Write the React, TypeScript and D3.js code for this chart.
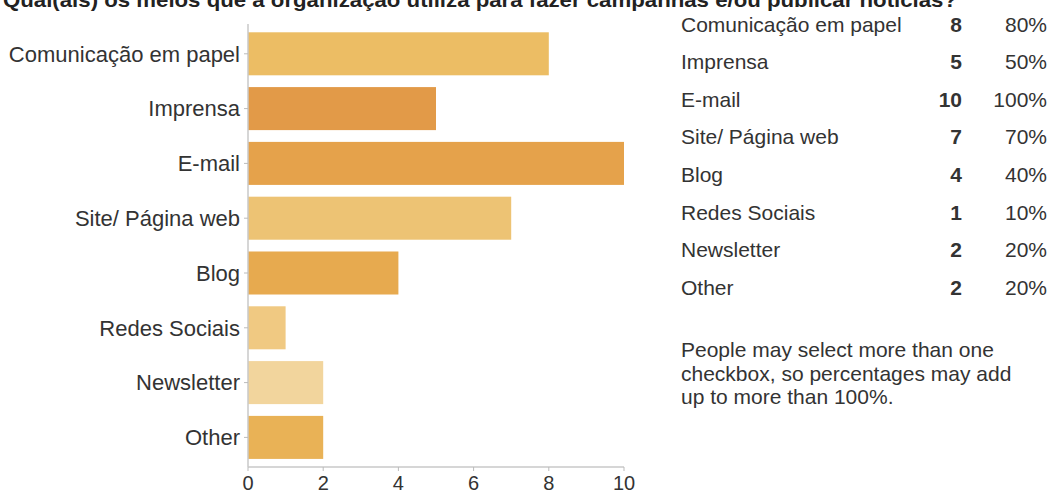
import React from "react";
import * as d3 from "d3";

const title = "Qual(ais) os meios que a organização utiliza para fazer campanhas e/ou publicar notícias?";
const categories = [
  "Comunicação em papel",
  "Imprensa",
  "E-mail",
  "Site/ Página web",
  "Blog",
  "Redes Sociais",
  "Newsletter",
  "Other",
];
const counts = [8, 5, 10, 7, 4, 1, 2, 2];
const percents = ["80%", "50%", "100%", "70%", "40%", "10%", "20%", "20%"];
const barColors = ["#ecbd64", "#e29a48", "#e5a24b", "#edc374", "#e7aa4f", "#f0c982", "#f2d59d", "#e9b256"];
const xTicks = [0, 2, 4, 6, 8, 10];
const noteLines = [
  "People may select more than one",
  "checkbox, so percentages may add",
  "up to more than 100%.",
];

const W = 1052;
const H = 495;
const FONT = "'Liberation Sans', Arial, Helvetica, sans-serif";
const TEXT = "#333";

export default function App() {
  const x = d3.scaleLinear().domain([0, 10]).range([248, 624]);
  const y = d3
    .scaleBand<string>()
    .domain(categories)
    .range([26.4, 464.8])
    .paddingInner(0.215)
    .paddingOuter(0.1075);
  const axisY = 467;

  const rowY = d3.scaleLinear().domain([0, 1]).range([31.5, 69.1]);

  return (
    <svg
      width={W}
      height={H}
      style={{ position: "absolute", left: 0, top: 0, background: "#fff" }}
      fontFamily={FONT}
    >
      {/* question title, partly above the top edge */}
      <text x={3} y={7} fontSize={21} fontWeight="bold" fill="#222" textLength={954} lengthAdjust="spacingAndGlyphs">
        {title}
      </text>

      {/* bars */}
      {categories.map((c, i) => (
        <rect key={c} x={x(0)} y={y(c)} width={x(counts[i]) - x(0)} height={y.bandwidth()} fill={barColors[i]} />
      ))}

      {/* y axis */}
      <line x1={x(0)} x2={x(0)} y1={24} y2={axisY} stroke="#c8c8c8" strokeWidth={1.5} />
      {categories.map((c) => {
        const cy = (y(c) as number) + y.bandwidth() / 2;
        return (
          <g key={c}>
            <line x1={x(0) - 4} x2={x(0)} y1={cy} y2={cy} stroke="#bbb" strokeWidth={1} />
            <text x={x(0) - 8} y={cy} dy="0.35em" textAnchor="end" fontSize={22} fill={TEXT}>
              {c}
            </text>
          </g>
        );
      })}

      {/* x axis */}
      <line x1={x(0)} x2={x(10)} y1={axisY} y2={axisY} stroke="#c8c8c8" strokeWidth={1.5} />
      {xTicks.map((t) => (
        <g key={t}>
          <line x1={x(t)} x2={x(t)} y1={axisY} y2={axisY + 4} stroke="#bbb" strokeWidth={1} />
          <text x={x(t)} y={490} textAnchor="middle" fontSize={20} fill={TEXT}>
            {t}
          </text>
        </g>
      ))}

      {/* summary table */}
      {categories.map((c, i) => (
        <g key={c}>
          <text x={681} y={rowY(i)} fontSize={21} fill={TEXT}>
            {c}
          </text>
          <text x={962} y={rowY(i)} fontSize={21} fontWeight="bold" textAnchor="end" fill={TEXT}>
            {counts[i]}
          </text>
          <text x={1047} y={rowY(i)} fontSize={21} textAnchor="end" fill={TEXT}>
            {percents[i]}
          </text>
        </g>
      ))}

      {/* note */}
      {noteLines.map((l, i) => (
        <text key={i} x={681} y={357 + i * 23.5} fontSize={21} fill={TEXT}>
          {l}
        </text>
      ))}
    </svg>
  );
}
